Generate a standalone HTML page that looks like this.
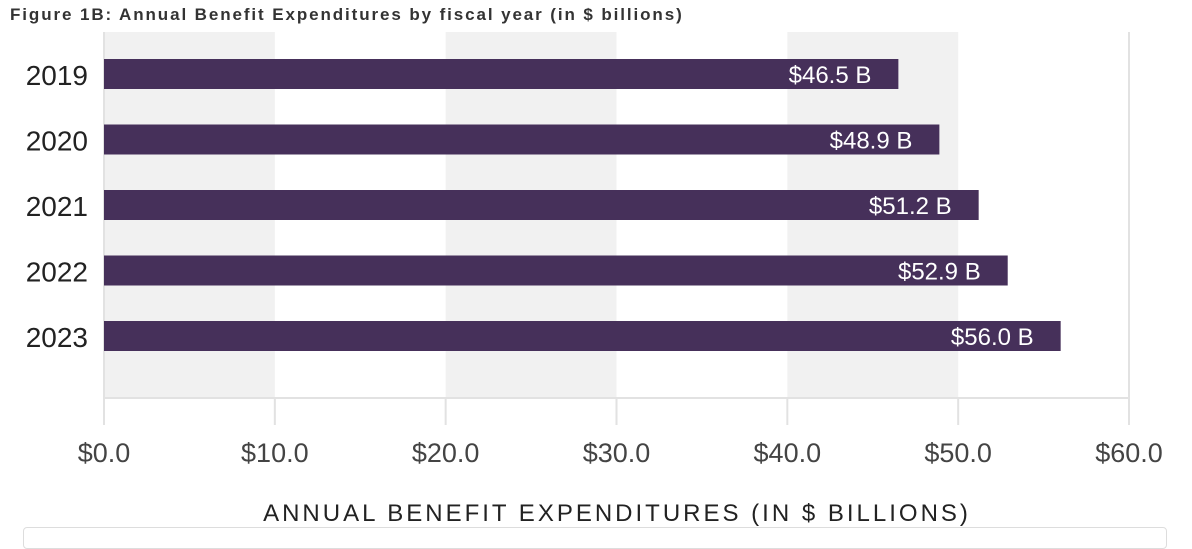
<!DOCTYPE html>
<html><head><meta charset="utf-8"><style>
body{margin:0;width:1192px;height:533px;background:#fff;overflow:hidden;font-family:"Liberation Sans",sans-serif}
#title{position:absolute;left:10px;top:5px;font-size:17px;font-weight:bold;color:#333;letter-spacing:1.9px}
svg{position:absolute;left:0;top:0}
#box{position:absolute;left:23px;top:527px;width:1142px;height:20px;border:1px solid #ddd;border-radius:4px}
</style></head><body>
<div id="title">Figure 1B: Annual Benefit Expenditures by fiscal year (in $ billions)</div>
<svg id="chart" width="1192" height="533"></svg>
<div id="box"></div>
<script>
const categories=["2019","2020","2021","2022","2023"];
const values=[46.5,48.9,51.2,52.9,56.0];
const valueLabels=["$46.5 B","$48.9 B","$51.2 B","$52.9 B","$56.0 B"];
const tickValues=[0,10,20,30,40,50,60];
const tickLabels=["$0.0","$10.0","$20.0","$30.0","$40.0","$50.0","$60.0"];
const NS="http://www.w3.org/2000/svg";
const svgEl=document.getElementById('chart');
const X0=104,X1=1129,PTOP=32,BASE=398;
const xs=v=>X0+(v-0)/(60-0)*(X1-X0);
const ys=i=>74+i*65.5;
function mk(t,a){const e=document.createElementNS(NS,t);for(const k in a)e.setAttribute(k,a[k]);svgEl.appendChild(e);return e;}
for(let i=0;i<tickValues.length-1;i++){
  if(i%2===0){const r=mk('rect',{x:xs(tickValues[i]),y:PTOP,width:xs(tickValues[i+1])-xs(tickValues[i]),height:BASE-PTOP,fill:'#f1f1f1'});
  
  }
}
mk('line',{x1:X0,x2:X1,y1:BASE,y2:BASE,stroke:'#e2e2e2','stroke-width':2});
tickValues.forEach((v,i)=>{
  const l=mk('line',{x1:xs(v),x2:xs(v),y1:(i===0||i===6)?PTOP:BASE,y2:425,stroke:'#e2e2e2','stroke-width':2});
  
  
  const t=mk('text',{x:xs(v),y:462,'text-anchor':'middle','font-size':27,fill:'#444','font-family':'"Liberation Sans Narrow","Liberation Sans",sans-serif'});
  t.textContent=tickLabels[i];
  
  
});
categories.forEach((c,i)=>{
  const cy=ys(i);
  const r=mk('rect',{x:X0,y:cy-15,width:xs(values[i])-X0,height:30,fill:'#46305a'});
  
  
  const t=mk('text',{x:xs(values[i])-27,y:cy+9,'text-anchor':'end','font-size':24,fill:'#fff','font-family':'"Liberation Sans Narrow","Liberation Sans",sans-serif'});
  t.textContent=valueLabels[i];
  
  
  const y=mk('text',{x:88,y:cy+11,'text-anchor':'end','font-size':28,fill:'#222','font-family':'"Liberation Sans Narrow","Liberation Sans",sans-serif'});
  y.textContent=c;
  
  
});
const at=mk('text',{x:617,y:521,'text-anchor':'middle','font-size':24,fill:'#222','letter-spacing':3,'font-family':'"Liberation Sans Narrow","Liberation Sans",sans-serif'});
at.textContent="ANNUAL BENEFIT EXPENDITURES (IN $ BILLIONS)";


</script>
</body></html>
